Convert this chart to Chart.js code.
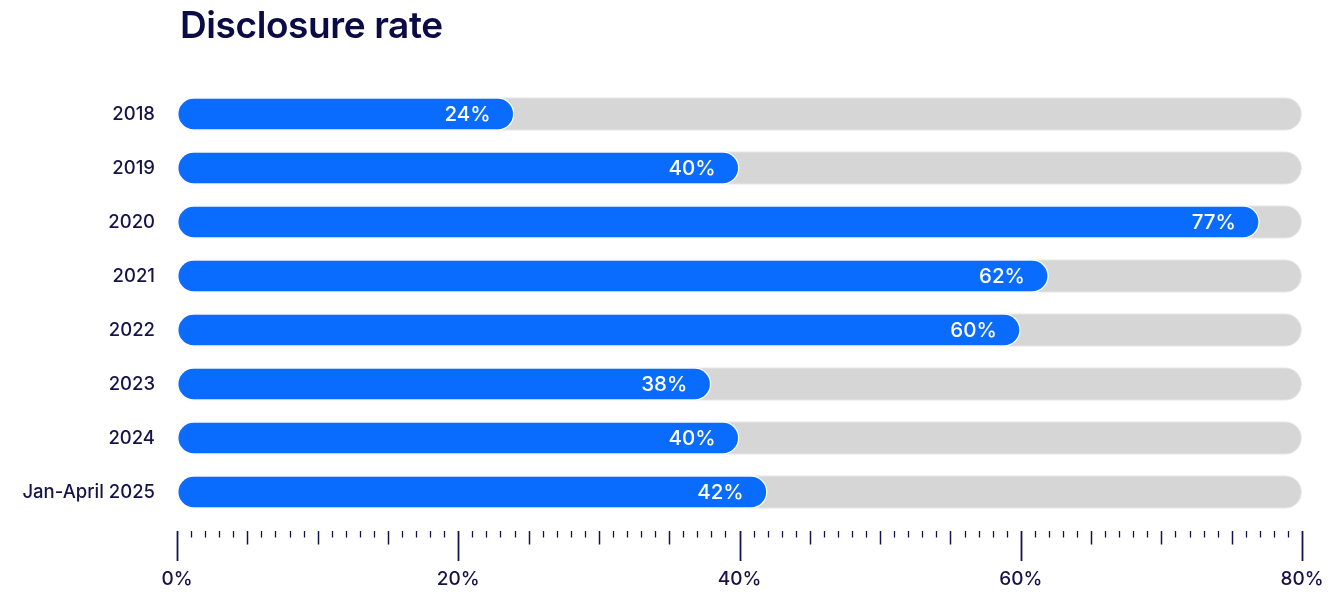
<!DOCTYPE html>
<html>
<head>
<meta charset="utf-8">
<script src="https://cdn.jsdelivr.net/npm/chart.js@4"></script>
<style>
  body { margin: 0; background: #fff; }
  #wrap { position: relative; width: 1331px; height: 595px; }
  #title { position: absolute; left: 180px; top: 2px; margin: 0; font: 600 37px Inter, sans-serif; color: #0b0b45; letter-spacing: -0.4px; }
</style>
</head>
<body>
<div id="wrap">
  <h1 id="title">Disclosure rate</h1>
  <canvas id="chart" width="1331" height="595"></canvas>
</div>
<script>
const categories = ['2018', '2019', '2020', '2021', '2022', '2023', '2024', 'Jan-April 2025'];
const rates = [24, 40, 77, 62, 60, 38, 40, 42];
const trackMax = 80;
const tickLabels = ['0%', '20%', '40%', '60%', '80%'];

const navy = '#14134a';

// value labels inside the blue bars
const valueLabels = {
    id: 'valueLabels',
    afterDatasetsDraw(chart) {
        const ctx = chart.ctx;
        const meta = chart.getDatasetMeta(0);
        ctx.save();
        ctx.font = '500 20.5px Inter, sans-serif';
        ctx.fillStyle = '#ffffff';
        ctx.textAlign = 'right';
        ctx.textBaseline = 'middle';
        meta.data.forEach((bar, i) => {
            ctx.fillText(rates[i] + '%', bar.x - 24, bar.y + 1);
        });
        ctx.restore();
    }
};

// ruler-style ticks under the bars
const ruler = {
    id: 'ruler',
    afterDraw(chart) {
        const ctx = chart.ctx;
        const x = chart.scales.x;
        const top = chart.chartArea.bottom + 12;
        ctx.save();
        ctx.strokeStyle = navy;
        for (let v = 0; v <= trackMax; v++) {
            const px = Math.round(x.getPixelForValue(v)) + 0.5;
            let len = 6.5, w = 1.3;
            if (v % 20 === 0) { len = 30; w = 1.8; }
            else if (v % 5 === 0) { len = 13.5; w = 1.5; }
            ctx.lineWidth = w;
            ctx.beginPath();
            ctx.moveTo(px, top);
            ctx.lineTo(px, top + len);
            ctx.stroke();
        }
        ctx.font = '500 19px Inter, sans-serif';
        ctx.fillStyle = navy;
        ctx.textAlign = 'center';
        ctx.textBaseline = 'middle';
        tickLabels.forEach((t, i) => {
            ctx.fillText(t, x.getPixelForValue(i * 20), top + 48);
        });
        ctx.restore();
    }
};

new Chart(document.getElementById('chart'), {
    type: 'bar',
    data: {
        labels: categories,
        datasets: [
            {
                data: rates,
                backgroundColor: '#0a6cff',
                borderColor: '#ffffff',
                borderWidth: 1.5,
                borderRadius: 17,
                borderSkipped: false,
                grouped: false,
                order: 0
            },
            {
                data: categories.map(() => trackMax),
                backgroundColor: '#d6d6d6',
                borderColor: '#e9e9e9',
                borderWidth: 1,
                borderRadius: 17,
                borderSkipped: false,
                grouped: false,
                order: 1
            }
        ]
    },
    options: {
        indexAxis: 'y',
        responsive: false,
        animation: false,
        barPercentage: 0.62,
        categoryPercentage: 1,
        layout: { padding: { top: 87, right: 29, bottom: 76, left: 0 } },
        plugins: { legend: { display: false }, tooltip: { enabled: false } },
        scales: {
            x: { display: false, min: 0, max: trackMax },
            y: {
                afterFit(scale) { scale.width = 177; },
                grid: { display: false },
                border: { display: false },
                ticks: { padding: 14, color: navy, font: { family: 'Inter', size: 18.5, weight: '500' } }
            }
        }
    },
    plugins: [valueLabels, ruler]
});
</script>
</body>
</html>
